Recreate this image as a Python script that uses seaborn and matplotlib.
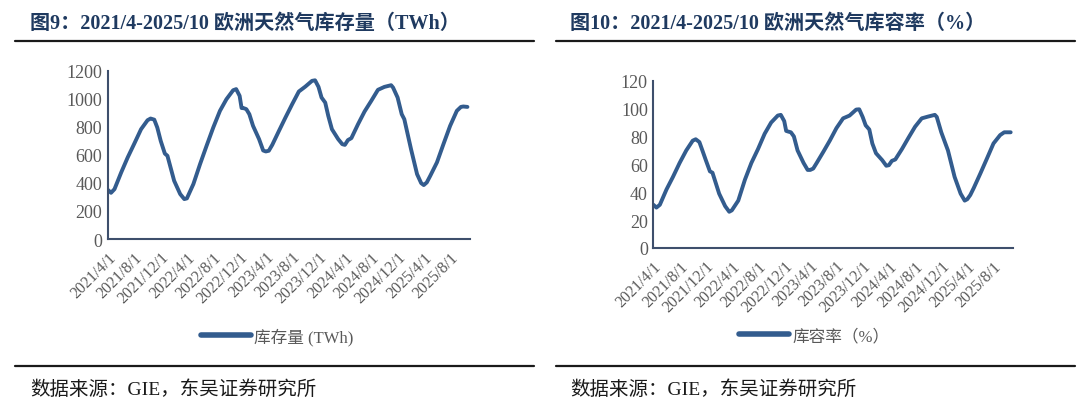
import pandas as pd
import matplotlib
matplotlib.use("Agg")
import matplotlib.pyplot as plt
from matplotlib.lines import Line2D
import seaborn as sns

# 数据
dates = ["2021-04-01", "2021-04-15", "2021-05-01", "2021-06-01", "2021-07-01", "2021-08-01",
         "2021-09-01", "2021-10-01", "2021-10-15", "2021-11-01", "2021-11-15", "2021-12-01",
         "2021-12-20", "2022-01-01", "2022-02-01", "2022-03-01", "2022-03-20", "2022-04-01",
         "2022-05-01", "2022-06-01", "2022-07-01", "2022-08-01", "2022-09-01", "2022-10-01",
         "2022-11-01", "2022-11-15", "2022-12-01", "2022-12-10", "2022-12-20", "2023-01-01",
         "2023-01-15", "2023-02-01", "2023-03-01", "2023-03-20", "2023-04-01", "2023-04-15",
         "2023-05-01", "2023-06-01", "2023-07-01", "2023-08-01", "2023-09-01", "2023-10-01",
         "2023-11-01", "2023-11-15", "2023-12-01", "2023-12-15", "2024-01-01", "2024-01-15",
         "2024-02-01", "2024-03-01", "2024-03-20", "2024-04-01", "2024-04-15", "2024-05-01",
         "2024-06-01", "2024-07-01", "2024-08-01", "2024-09-01", "2024-10-01", "2024-11-01",
         "2024-11-10", "2024-12-01", "2024-12-20", "2025-01-01", "2025-02-01", "2025-03-01",
         "2025-03-20", "2025-04-01", "2025-04-15", "2025-05-01", "2025-06-01", "2025-07-01",
         "2025-08-01", "2025-09-01", "2025-09-20", "2025-10-01", "2025-10-20"]

storage = [350, 330, 356, 475, 582, 682,
           784, 848, 860, 852, 796, 700,
           610, 594, 416, 321, 285, 290,
           392, 535, 665, 796, 915, 998,
           1062, 1070, 1022, 935, 934, 927,
           891, 808, 713, 632, 625, 630,
           672, 772, 867, 962, 1053, 1088,
           1129, 1133, 1086, 1010, 974, 880,
           784, 713, 677, 672, 706, 720,
           820, 910, 986, 1065, 1086, 1098,
           1081, 1010, 891, 855, 642, 463,
           399, 385, 404, 451, 547, 677,
           808, 915, 943, 946, 943]

ratio = [31, 29, 31, 42, 51, 61,
         70, 77, 78, 76, 70, 63,
         55, 54, 39, 30, 26, 27,
         34, 49, 61, 71, 82, 90,
         95, 95.5, 91, 84, 83.5, 83,
         80, 70, 61, 56, 56, 57,
         61, 69, 77, 86, 93, 95,
         99.3, 99.5, 94, 88, 85, 75,
         68, 63, 59, 59.4, 62.5, 63.5,
         71, 79, 87, 93, 94.3, 95.5,
         94, 83, 75, 70, 51, 39,
         34, 35, 38, 43, 53.5, 64,
         75, 81, 83, 83, 83]

tick_labels = ["2021/4/1", "2021/8/1", "2021/12/1", "2022/4/1", "2022/8/1", "2022/12/1",
               "2023/4/1", "2023/8/1", "2023/12/1", "2024/4/1", "2024/8/1", "2024/12/1",
               "2025/4/1", "2025/8/1"]

titles = ["图9：2021/4-2025/10 欧洲天然气库存量（TWh）",
          "图10：2021/4-2025/10 欧洲天然气库容率（%）"]
legend_labels = ["库存量 (TWh)", "库容率（%）"]
source = "数据来源：GIE，东吴证券研究所"

sns.set_style("white")
plt.rcParams["font.family"] = ["Liberation Serif", "Noto Sans CJK SC"]

LINE_C = "#335C8E"
AXIS_C = "#3E4F6C"
TEXT_C = "#595959"
TITLE_C = "#1F3A60"

df = pd.DataFrame({"date": pd.to_datetime(dates), "storage": storage, "ratio": ratio})
tick_dates = pd.to_datetime(tick_labels, format="%Y/%m/%d")

fig = plt.figure(figsize=(10.8, 4.1), dpi=100)

# 左：库存量 / 右：库容率
ax1 = fig.add_axes([0.100, 0.4146, 0.335, 0.410])
ax2 = fig.add_axes([0.605, 0.3927, 0.333, 0.408])

panels = [
    (ax1, "storage", 1200, 200, legend_labels[0], (0.467, -0.577)),
    (ax2, "ratio", 120, 20, legend_labels[1], (0.447, -0.526)),
]

for ax, col, ymax, step, lab, leg_pos in panels:
    sns.lineplot(data=df, x="date", y=col, ax=ax, color=LINE_C, linewidth=2.8,
                 label=lab)
    ax.set_xlim(pd.Timestamp("2021-04-01"), pd.Timestamp("2025-10-31"))
    ax.set_ylim(0, ymax)
    ax.set_yticks(range(0, ymax + 1, step))
    ax.set_xticks(tick_dates)
    ax.set_xticklabels(tick_labels, rotation=45, ha="right", va="top",
                       rotation_mode="anchor", fontsize=11.5, color=TEXT_C)
    ax.tick_params(axis="y", labelsize=13, labelcolor=TEXT_C)
    ax.tick_params(direction="in", length=4, width=1.2, color=AXIS_C, pad=4)
    ax.tick_params(axis="x", pad=7)
    ax.set_xlabel("")
    ax.set_ylabel("")
    for s in ["top", "right"]:
        ax.spines[s].set_visible(False)
    for s in ["left", "bottom"]:
        ax.spines[s].set_color(AXIS_C)
        ax.spines[s].set_linewidth(1.5)
    ax.patch.set_alpha(0)
    leg = ax.legend(loc="center", bbox_to_anchor=leg_pos, frameon=False,
                    fontsize=12, handlelength=3.0, handletextpad=0.2)
    for t in leg.get_texts():
        t.set_color(TEXT_C)
    for h in leg.legend_handles:
        h.set_linewidth(4)

# 标题、分隔线、数据来源
for x0, x1, tx, title in [(0.014, 0.494, 0.028, titles[0]), (0.515, 0.995, 0.528, titles[1])]:
    fig.text(tx, 0.941, title, fontsize=14.5, fontweight="bold", color=TITLE_C,
             va="center", ha="left")
    fig.add_artist(Line2D([x0, x1], [0.8976, 0.8976], transform=fig.transFigure,
                          color="#1a1a1a", lw=1.6))
    fig.add_artist(Line2D([x0, x1], [0.105, 0.105], transform=fig.transFigure,
                          color="#1a1a1a", lw=1.6))
    fig.text(tx, 0.05, source, fontsize=14, color="#1a1a1a", va="center", ha="left")

fig.savefig("out.png", dpi=100, facecolor="white")
